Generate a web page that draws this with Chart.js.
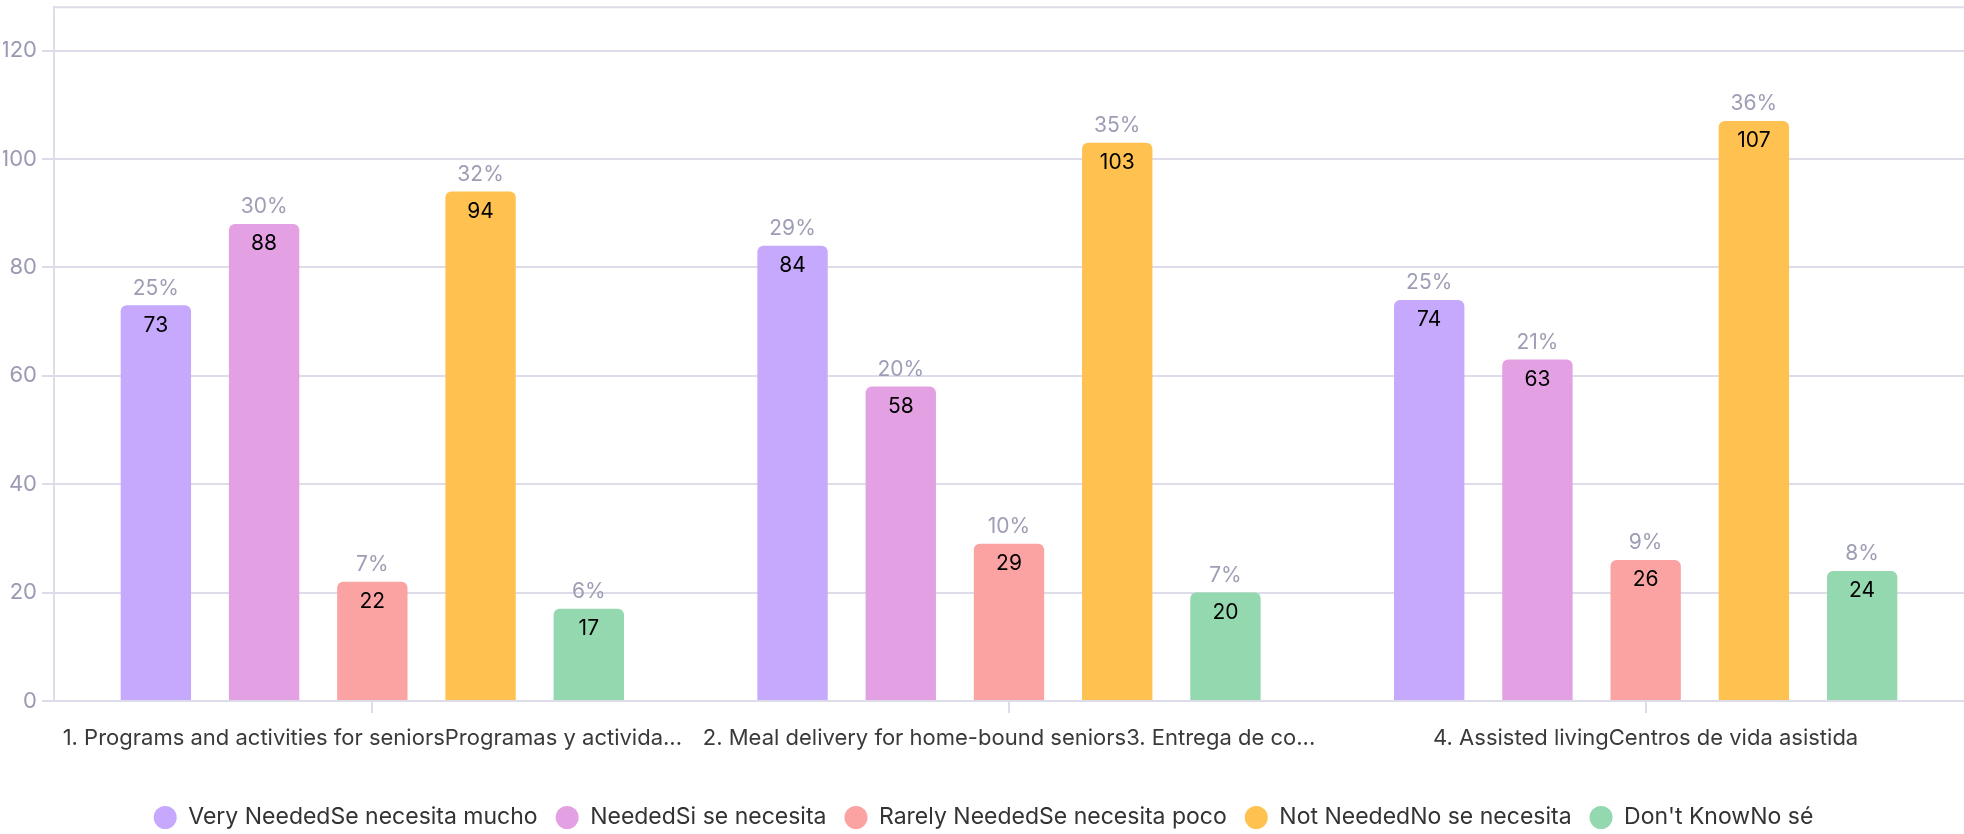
<!DOCTYPE html>
<html lang="en">
<head>
<meta charset="UTF-8">
<title>Senior services – need survey</title>
<style>
  html, body { margin: 0; padding: 0; background: #fff; }
  #wrap { width: 1964px; height: 834px; position: relative; }
</style>
</head>
<body>
<div id="wrap"><canvas id="chart"></canvas></div>
<script src="https://cdn.jsdelivr.net/npm/chart.js"></script>
<script>
// categories (English + Spanish label, shortened as displayed)
const categories = [
  '1. Programs and activities for seniorsProgramas y activida...',
  '2. Meal delivery for home-bound seniors3. Entrega de co...',
  '4. Assisted livingCentros de vida asistida'
];

const seriesNames = [
  'Very NeededSe necesita mucho',
  'NeededSi se necesita',
  'Rarely NeededSe necesita poco',
  'Not NeededNo se necesita',
  "Don't KnowNo sé"
];

// responses per category
const veryNeeded   = [73, 84, 74];
const needed       = [88, 58, 63];
const rarelyNeeded = [22, 29, 26];
const notNeeded    = [94, 103, 107];
const dontKnow     = [17, 20, 24];

const yStep = 20;
const yMax = 128;

const seriesColors = ['#c6a8fc', '#e3a0e2', '#fba3a3', '#ffc150', '#93d8ae'];
const gridColor = '#dddde9';

const seriesValues = [veryNeeded, needed, rarelyNeeded, notNeeded, dontKnow];

Chart.defaults.font.family = 'Inter, "Noto Sans", sans-serif';

// percent above each bar, count inside its top
const barLabels = {
  id: 'barLabels',
  afterDatasetsDraw(chart) {
    const ctx = chart.ctx;
    const ds = chart.data.datasets;
    const totals = categories.map((_, i) => ds.reduce((s, d) => s + d.data[i], 0));
    ctx.save();
    ctx.textAlign = 'center';
    ctx.textBaseline = 'middle';
    ctx.font = '21px Inter, "Noto Sans", sans-serif';
    ds.forEach((d, di) => {
      chart.getDatasetMeta(di).data.forEach((bar, i) => {
        const pct = Math.round(d.data[i] / totals[i] * 100) + '%';
        ctx.fillStyle = '#9d9db5';
        ctx.fillText(pct, bar.x, bar.y - 17);
        ctx.fillStyle = '#000000';
        ctx.fillText(String(d.data[i]), bar.x, bar.y + 20);
      });
    });
    ctx.restore();
  }
};

// thin frame line along the top of the plot area
const topLine = {
  id: 'topLine',
  beforeDatasetsDraw(chart) {
    const { ctx, chartArea } = chart;
    ctx.save();
    ctx.strokeStyle = gridColor;
    ctx.lineWidth = 2;
    ctx.beginPath();
    ctx.moveTo(chartArea.left, chartArea.top);
    ctx.lineTo(chartArea.right, chartArea.top);
    ctx.stroke();
    ctx.restore();
  }
};

new Chart(document.getElementById('chart'), {
  type: 'bar',
  data: {
    labels: categories,
    datasets: seriesNames.map((name, i) => ({
      label: name,
      data: seriesValues[i],
      backgroundColor: seriesColors[i],
      borderRadius: 6,
      borderSkipped: 'start',
      categoryPercentage: 0.85,
      barPercentage: 0.65
    }))
  },
  options: {
    responsive: true,
    maintainAspectRatio: false,
    animation: false,
    layout: { padding: { left: 3, top: 3, right: 0, bottom: -5 } },
    plugins: {
      tooltip: { enabled: false },
      legend: {
        position: 'bottom',
        labels: {
          usePointStyle: true,
          pointStyle: 'circle',
          pointStyleWidth: 23,
          boxHeight: 16.3,
          padding: 18,
          color: '#333333',
          font: { size: 23 }
        }
      }
    },
    scales: {
      x: {
        grid: {
          drawOnChartArea: false,
          offset: false,
          tickLength: 12,
          color: gridColor,
          lineWidth: 2
        },
        border: { color: gridColor, width: 2 },
        ticks: {
          color: '#3a3a3a',
          font: { size: 22 },
          padding: 12,
          maxRotation: 0,
          minRotation: 0,
          autoSkip: false
        },
        afterFit(scale) { scale.height = 87; }
      },
      y: {
        min: 0,
        max: yMax,
        bounds: 'data',
        grid: { color: gridColor, lineWidth: 2, tickLength: 12 },
        border: { color: gridColor, width: 2 },
        ticks: {
          stepSize: yStep,
          color: '#9a9ab3',
          padding: 5,
          font: { size: 22, lineHeight: 0.2 }
        },
        // keep only the round steps, not the axis maximum
        afterBuildTicks(scale) {
          scale.ticks = scale.ticks.filter(t => t.value % yStep === 0);
        },
        afterFit(scale) { scale.width = 51; }
      }
    }
  },
  plugins: [barLabels, topLine]
});
</script>
</body>
</html>
